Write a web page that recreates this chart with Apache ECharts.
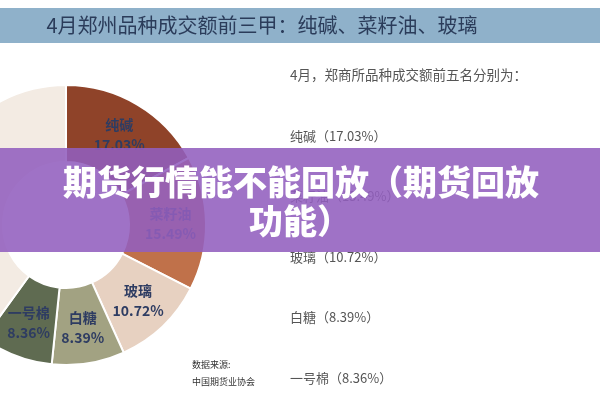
<!DOCTYPE html>
<html>
<head>
<meta charset="utf-8">
<script src="https://cdn.jsdelivr.net/npm/echarts@6/dist/echarts.min.js"></script>
<style>
html,body{margin:0;padding:0;background:#fff;}
#c{width:600px;height:400px;}
</style>
</head>
<body>
<div id="c"></div>
<script>
const titleText = '4月郑州品种成交额前三甲：纯碱、菜籽油、玻璃';
const introText = '4月，郑商所品种成交额前五名分别为：';
const categories = ['纯碱', '菜籽油', '玻璃', '白糖', '一号棉', '其他'];
const values = [17.03, 15.49, 10.72, 8.39, 8.36, 40.01];
const colors = ['#8f4329', '#c0714a', '#e7d1c1', '#a2a282', '#5f6b51', '#f3ebe3'];
const sourceLines = ['数据来源:', '中国期货业协会'];
const bannerLines = ['期货行情能不能回放（期货回放', '功能）'];

const FONT = '"Noto Sans CJK SC", "Noto Sans", sans-serif';
const chart = echarts.init(document.getElementById('c'));

const pieData = categories.map((name, i) => ({
  name: name,
  value: values[i],
  itemStyle: { color: colors[i] },
  label: { show: name !== '其他' }
}));

const graphics = [
  { type: 'rect', shape: { x: 0, y: 8, width: 600, height: 35 }, style: { fill: '#8fb1ca' }, z: 10 },
  { type: 'text', x: 262, y: 25, style: { text: titleText, fill: '#2b3c5a', font: '20px ' + FONT, textAlign: 'center', textVerticalAlign: 'middle' }, z: 11 },
  { type: 'text', x: 290, y: 75, style: { text: introText, fill: '#555', font: '13.5px ' + FONT, textAlign: 'left', textVerticalAlign: 'middle' }, z: 11 }
];
const itemYs = [136, 196, 257, 317, 378];
for (let i = 0; i < 5; i++) {
  graphics.push({ type: 'text', x: 290, y: itemYs[i], style: { text: categories[i] + '（' + values[i].toFixed(2) + '%）', fill: '#555', font: '13px ' + FONT, textAlign: 'left', textVerticalAlign: 'middle' }, z: 11 });
}
graphics.push({ type: 'text', x: 192, y: 365, style: { text: sourceLines[0], fill: '#333', font: '9px ' + FONT, textAlign: 'left', textVerticalAlign: 'middle' }, z: 11 });
graphics.push({ type: 'text', x: 192, y: 382, style: { text: sourceLines[1], fill: '#333', font: '9px ' + FONT, textAlign: 'left', textVerticalAlign: 'middle' }, z: 11 });
// banner overlay
graphics.push({ type: 'rect', shape: { x: 0, y: 148, width: 600, height: 104 }, style: { fill: 'rgba(146,94,190,0.88)' }, z: 100 });
graphics.push({ type: 'text', x: 301, y: 182, style: { text: bannerLines[0], fill: '#fff', font: '900 34px ' + FONT, textAlign: 'center', textVerticalAlign: 'middle' }, z: 101 });
graphics.push({ type: 'text', x: 300, y: 221, style: { text: bannerLines[1], fill: '#fff', font: '900 34px ' + FONT, textAlign: 'center', textVerticalAlign: 'middle' }, z: 101 });

chart.setOption({
  animation: false,
  backgroundColor: '#fff',
  series: [{
    type: 'pie',
    center: [66, 225],
    radius: [63, 140],
    startAngle: 90,
    clockwise: true,
    avoidLabelOverlap: false,
    itemStyle: { borderColor: '#fff', borderWidth: 2 },
    label: {
      position: 'inside',
      formatter: '{b}\n{c}%',
      color: '#2e3c62',
      fontFamily: FONT,
      fontWeight: 'bold',
      fontSize: 14,
      lineHeight: 20
    },
    labelLine: { show: false },
    emphasis: { disabled: true },
    data: pieData
  }],
  graphic: graphics
});
</script>
</body>
</html>
